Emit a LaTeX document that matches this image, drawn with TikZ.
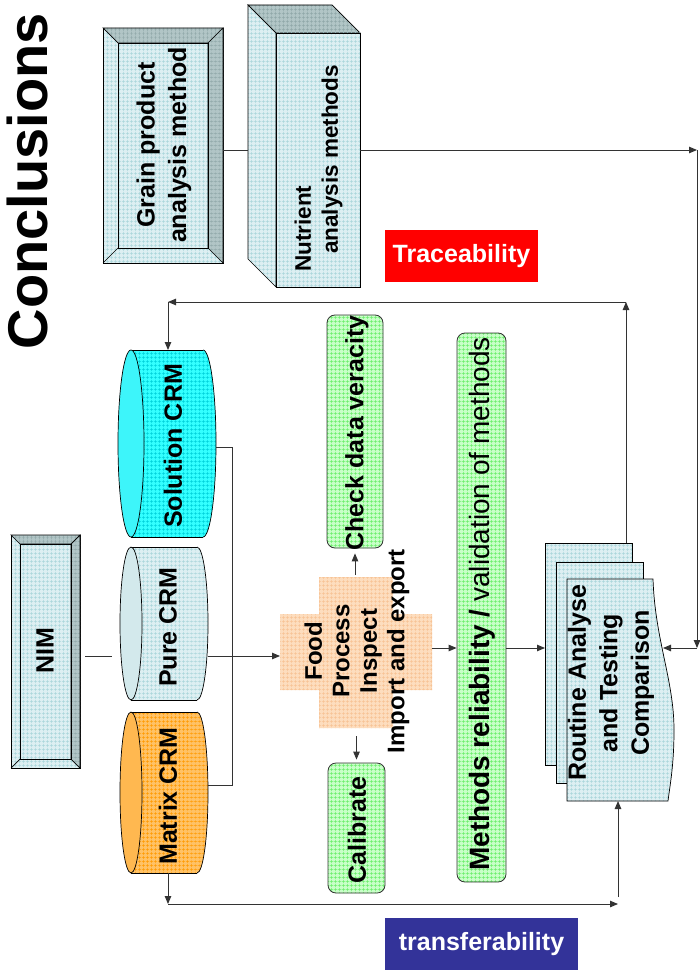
\documentclass[tikz,border=0pt]{standalone}
\usepackage{fontspec}
\setmainfont{Liberation Sans}
\usetikzlibrary{arrows.meta,patterns.meta,calc}

\definecolor{tealL}{HTML}{DDEFF2}
\definecolor{tealLg}{HTML}{A9D5DA}
\definecolor{tealD}{HTML}{B1C5C6}
\definecolor{tealDg}{HTML}{8FA7A8}
\definecolor{cyanF}{HTML}{33FFFF}
\definecolor{cyanG}{HTML}{00D0DA}
\definecolor{cyanE}{HTML}{3DF5FA}
\definecolor{orgF}{HTML}{FFC266}
\definecolor{orgG}{HTML}{FF9A00}
\definecolor{orgE}{HTML}{FFB850}
\definecolor{pureE}{HTML}{D3E9EC}
\definecolor{grnF}{HTML}{C8FFC8}
\definecolor{grnG}{HTML}{66EE66}
\definecolor{pchF}{HTML}{FDDDBE}
\definecolor{pchG}{HTML}{F7C293}
\definecolor{trcRed}{HTML}{FF0000}
\definecolor{trnBlue}{HTML}{333399}
\definecolor{lineC}{HTML}{333333}

\newcommand\bevelbox[5]{%
  \draw[ol,gf={tealL}{tealLg}] (#1,#2) rectangle (#3,#4);
  \draw[ol,gf={tealD}{tealDg}] (#1,#2) -- (#3,#2) -- ({#3-#5},{#2+#5}) -- ({#1+#5},{#2+#5}) -- cycle;
  \draw[ol,gf={tealD}{tealDg}] (#3,#2) -- (#3,#4) -- ({#3-#5},{#4-#5}) -- ({#3-#5},{#2+#5}) -- cycle;
  \draw[ol] (#1,#4) -- ({#1+#5},{#4-#5});
  \draw[ol] ({#1+#5},{#2+#5}) rectangle ({#3-#5},{#4-#5});
}
\newcommand\crmcyl[8]{%
  \path[gf={#6}{#7}] ({#1+#5},#2) rectangle ({#3-#5},#4);
  \path[gf={#6}{#7}] ({#3-#5},{(#2+#4)/2}) ellipse [x radius=#5, y radius={(#4-#2)/2}];
  \begin{scope}
    \clip ({#3-#5},{#2-3}) rectangle ({#3+3},{#4+3});
    \draw[ol] ({#3-#5},{(#2+#4)/2}) ellipse [x radius=#5, y radius={(#4-#2)/2}];
  \end{scope}
  \draw[ol] ({#1+#5},#2) -- ({#3-#5},#2) ({#1+#5},#4) -- ({#3-#5},#4);
  \draw[ol,fill=#8] ({#1+#5},{(#2+#4)/2}) ellipse [x radius=#5, y radius={(#4-#2)/2}];
}

\begin{document}
\begin{tikzpicture}[x=1pt,y=-1pt, line join=miter,
  gf/.style 2 args={preaction={fill=#1}, pattern={Hatch[angle=0,distance=4pt,line width=0.4pt]}, pattern color=#2},
  ol/.style={draw=black, line width=0.7pt},
  anchorbox/.style={rectangle, inner sep=0pt, outer sep=0pt, draw=none},
  gbox/.style={rectangle, rounded corners=8pt, draw=black!80, line width=0.8pt, gf={grnF}{grnG}, inner sep=0pt},
  lbl/.style={rotate=90, align=center, inner sep=0pt, font=\bfseries\fontsize{25}{31.5}\selectfont},
  conn/.style={draw=lineC, line width=0.9pt},
  arr/.style={conn, -{Triangle[length=8pt,width=6.5pt]}},
  tag/.style={rectangle, inner sep=0pt, text=white, font=\bfseries\fontsize{25}{30}\selectfont},
]
\useasboundingbox (0,0) rectangle (700,973);
\fill[white] (0,0) rectangle (700,973);

% title
\node[rotate=90, font=\bfseries\fontsize{56}{60}\selectfont, inner sep=0pt] (title) at (27,181) {Conclusions};

% grain product bevel box
\bevelbox{103}{28}{223}{263}{15}
\node[anchorbox, minimum width=120pt, minimum height=235pt] (grain) at (163,145.5) {};
\node[lbl] (grainT) at (164,145) {Grain product\\analysis method};

% nutrient 3D box
\draw[ol,gf={tealL}{tealLg}] (248,5) -- (276,33) -- (276,287) -- (248,259) -- cycle;
\draw[ol,gf={tealD}{tealDg}] (248,5) -- (332,5) -- (360,33) -- (276,33) -- cycle;
\draw[ol,gf={tealL}{tealLg}] (276,33) rectangle (360,287);
\node[anchorbox, minimum width=112pt, minimum height=282pt] (nut) at (304,146) {};
\node[lbl, font=\bfseries\fontsize{22.5}{27}\selectfont, align=left] (nutT) at (318.5,168.5) {Nutrient\\\hspace*{18pt}analysis methods};

% traceability
\node[tag, fill=trcRed, minimum width=153pt, minimum height=52pt] (trace) at (461.5,256) {Traceability};

% NIM
\bevelbox{11}{535}{80}{768}{9}
\node[anchorbox, minimum width=69pt, minimum height=233pt] (nim) at (45.5,651.5) {};
\node[lbl] (nimT) at (45,651) {NIM};

% CRM cylinders
\crmcyl{118}{350}{216}{537}{13}{cyanF}{cyanG}{cyanE}
\node[anchorbox, minimum width=98pt, minimum height=187pt] (sol) at (167,443.5) {};
\node[lbl] (solT) at (173,446) {Solution CRM};

\crmcyl{120}{547}{208}{700}{11}{tealL}{tealLg}{pureE}
\node[anchorbox, minimum width=88pt, minimum height=153pt] (pure) at (164,623.5) {};
\node[lbl] (pureT) at (168,627) {Pure CRM};

\crmcyl{120}{712}{208}{873}{11}{orgF}{orgG}{orgE}
\node[anchorbox, minimum width=88pt, minimum height=161pt] (mat) at (164,792.5) {};
\node[lbl] (matT) at (168,796) {Matrix CRM};

% cross
\path[gf={pchF}{pchG}] (280,614) -- (319,614) -- (319,577) -- (393,577) -- (393,614) -- (432,614)
   -- (432,690) -- (393,690) -- (393,728) -- (319,728) -- (319,690) -- (280,690) -- cycle;
\node[anchorbox, minimum width=152pt, minimum height=151pt] (cross) at (356,652.5) {};
\node[lbl, font=\bfseries\fontsize{24}{27.5}\selectfont] (crossT) at (357,651) {Food\\Process\\Inspect\\Import and export};

% green boxes
\node[gbox, minimum width=56pt, minimum height=233pt] (chk) at (355,431.5) {};
\node[lbl] (chkT) at (357,433) {Check data veracity};
\node[gbox, minimum width=57pt, minimum height=130pt] (cal) at (356.5,828) {};
\node[lbl] (calT) at (357,830) {Calibrate};
\node[gbox, minimum width=49pt, minimum height=549pt] (meth) at (481.5,607.5) {};
\node[lbl, font=\fontsize{28}{31}\selectfont] (methT) at (482,604) {\textbf{Methods reliability /} validation of methods};

% routine multi-document
\draw[ol,gf={tealL}{tealLg}] (545,543) rectangle (632,765);
\draw[ol,gf={tealL}{tealLg}] (556,562) rectangle (643,783);
\draw[ol,gf={tealL}{tealLg}] (567,579) -- (653,579) .. controls (655,640) and (674,680) .. (674,730)
   .. controls (674,765) and (670,785) .. (668,801) -- (567,801) -- cycle;
\node[anchorbox, minimum width=129pt, minimum height=258pt] (rt) at (609.5,672) {};
\node[lbl] (rtT) at (611,683) {Routine Analyse\\and Testing\\Comparison};

% transferability
\node[tag, fill=trnBlue, minimum width=193pt, minimum height=52pt] (transf) at (481.5,944) {transferability};

% coordinates
\coordinate (y150) at (0,150);
\coordinate (c1) at (697,150);
\coordinate (c2) at (697,648);
\coordinate (wave) at (663,648);
\coordinate (y648) at (0,648);
\coordinate (y656) at (0,656);
\coordinate (fbR) at (626,302);
\coordinate (fbL) at (168,302);
\coordinate (bt) at (232,447);
\coordinate (bb) at (232,785);
\coordinate (mdn) at (168,904);
\coordinate (bR) at (618,904);
\coordinate (bR2) at (618,897);

% connectors
\draw[conn] (grain.east |- y150) -- (nut.west |- y150);
\draw[arr] (nut.east |- y150) -- (c1);
\draw[arr] (c1) -- (c2);
\draw[arr] (c2) -- (wave);
\draw[conn] ($(nim.east |- y656)+(5,0)$) -- ($(pure.west |- y656)+(-8,0)$);
\draw[arr] (pure.east |- y656) -- (cross.west |- y656);
\draw[conn] (sol.east |- bt) -- (bt) -- (bb) -- (mat.east |- bb);
\draw[arr] ($(chk.south |- cross.north)+(0,-2)$) -- ($(chk.south)+(0,5)$);
\draw[arr] ($(cal.north |- cross.south)+(0,8)$) -- ($(cal.north)+(0,-3)$);
\draw[arr] (cross.east |- y648) -- (meth.west |- y648);
\draw[arr] (meth.east |- y648) -- (rt.west |- y648);
\draw[arr] (rt.north -| fbR) -- (fbR);
\draw[arr] (fbR) -- (fbL);
\draw[arr] (fbL) -- (fbL |- sol.north);
\draw[arr] (mdn |- mat.south) -- (mdn);
\draw[arr] (mdn) -- (bR);
\draw[arr] (bR2) -- (bR2 |- rt.south);
\end{tikzpicture}
\end{document}
